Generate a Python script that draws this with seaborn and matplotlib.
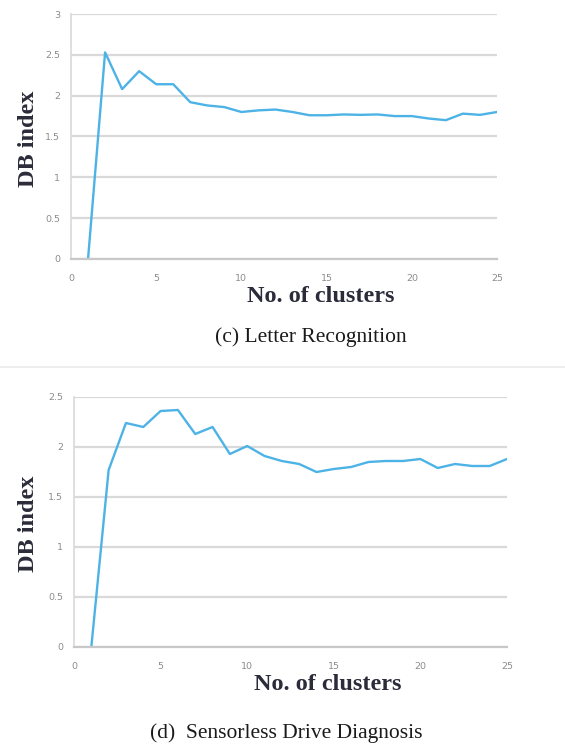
import numpy as np
import pandas as pd
import matplotlib
matplotlib.use("Agg")
import matplotlib.pyplot as plt
import seaborn as sns

# DB index for k = 1..25 clusters
clusters = list(range(1, 26))
db_letter = [0.0, 2.53, 2.08, 2.30, 2.14, 2.14, 1.92, 1.88, 1.86, 1.80, 1.82, 1.83,
             1.80, 1.76, 1.76, 1.77, 1.765, 1.77, 1.75, 1.75, 1.72, 1.70, 1.78, 1.765, 1.80]
db_sensorless = [0.0, 1.77, 2.24, 2.20, 2.36, 2.37, 2.13, 2.20, 1.93, 2.01, 1.91, 1.86,
                 1.83, 1.75, 1.78, 1.80, 1.85, 1.86, 1.86, 1.88, 1.79, 1.83, 1.81, 1.81, 1.88]

x_ticks = [0, 5, 10, 15, 20, 25]
y_ticks_letter = [0, 0.5, 1, 1.5, 2, 2.5, 3]
y_ticks_sensorless = [0, 0.5, 1, 1.5, 2, 2.5]
captions = ["(c) Letter Recognition", "(d)  Sensorless Drive Diagnosis"]

sns.set_theme(style="white")
plt.rcParams["font.family"] = ["DejaVu Sans"]

W, H = 565, 749
fig = plt.figure(figsize=(W / 100, H / 100), dpi=100)
fig.patch.set_facecolor("white")

LINE = "#4DB3E6"
GRID = "#D9D9D9"
TICK = "#8C8C8C"
LABEL = "#2B2B3A"
SERIF = ["Liberation Serif", "DejaVu Serif"]


def px_axes(x0, y0, x1, y1):
    return fig.add_axes([x0 / W, 1 - y1 / H, (x1 - x0) / W, (y1 - y0) / H])


def fmt(v):
    return f"{v:g}"


def draw(ax, values, yticks, ymax, box):
    x0, y0, x1, y1 = box
    df = pd.DataFrame({"k": clusters, "db": values})
    sns.lineplot(data=df, x="k", y="db", ax=ax, color=LINE, linewidth=1.7)
    ax.set_xlim(0, 25)
    ax.set_ylim(0, ymax)
    ax.set_xticks(x_ticks)
    ax.set_xticklabels([fmt(v) for v in x_ticks])
    ax.set_yticks(yticks)
    ax.set_yticklabels([fmt(v) for v in yticks])
    ax.tick_params(axis="both", length=0, labelsize=6.8, labelcolor=TICK)
    ax.tick_params(axis="x", pad=11)
    ax.tick_params(axis="y", pad=8)
    ax.yaxis.grid(True, color=GRID, linewidth=1.6)
    ax.xaxis.grid(False)
    for side in ["top", "right"]:
        ax.spines[side].set_visible(False)
    ax.spines["left"].set_color(GRID)
    ax.spines["left"].set_linewidth(1.2)
    ax.spines["bottom"].set_color("#C8C8C8")
    ax.spines["bottom"].set_linewidth(1.6)
    w, h = x1 - x0, y1 - y0
    ax.set_xlabel("No. of clusters", fontsize=17.5, fontweight="bold",
                  family=SERIF, color=LABEL, va="center")
    ax.xaxis.set_label_coords((w / 2 + 37) / w, -38 / h)
    ax.set_ylabel("DB index", fontsize=17.5, fontweight="bold",
                  family=SERIF, color=LABEL, va="center")
    ax.set_facecolor("white")
    return w, h


box1 = (71, 14, 497, 259)
ax1 = px_axes(*box1)
w1, h1 = draw(ax1, db_letter, y_ticks_letter, 3, box1)
ax1.yaxis.set_label_coords((29 - 71) / w1, (259 - 139) / h1)

box2 = (74, 397, 507, 647)
ax2 = px_axes(*box2)
w2, h2 = draw(ax2, db_sensorless, y_ticks_sensorless, 2.5, box2)
ax2.yaxis.set_label_coords((29 - 74) / w2, (647 - 524) / h2)

fig.text(311 / W, 1 - 337 / H, captions[0], ha="center", va="center",
         fontsize=15.5, family=SERIF, color="#1A1A1A")
fig.text(423 / W, 1 - 733 / H, captions[1], ha="right", va="center",
         fontsize=15.5, family=SERIF, color="#1A1A1A")

# light rule between the two panels
fig.add_artist(plt.Line2D([0, 1], [1 - 367 / H, 1 - 367 / H],
                          transform=fig.transFigure, color="#EBEBEB", linewidth=1.2))

fig.savefig("out.png", dpi=100, facecolor="white")
